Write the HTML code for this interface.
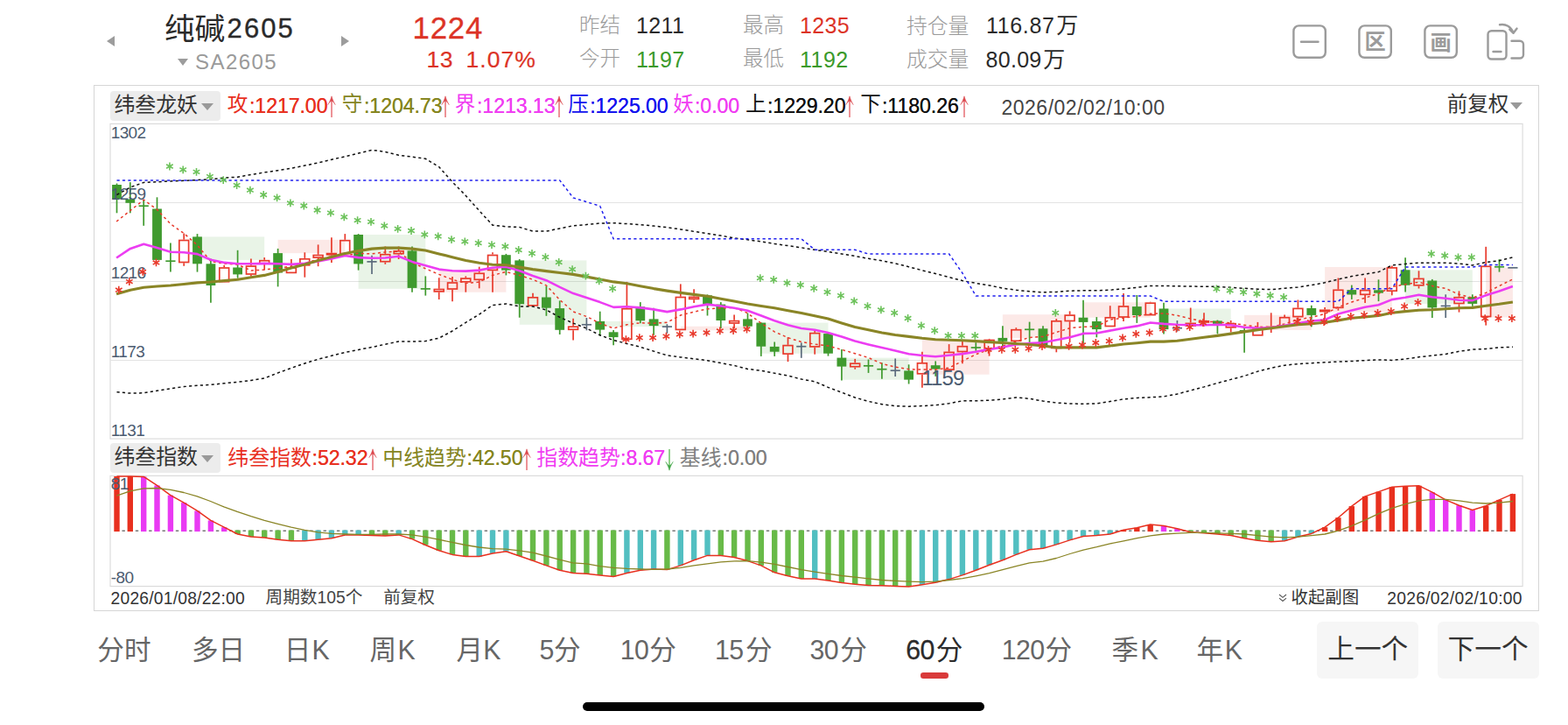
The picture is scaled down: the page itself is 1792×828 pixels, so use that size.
<!DOCTYPE html>
<html lang="zh-CN"><head><meta charset="utf-8"><title>纯碱2605 60分 K线</title>
<style>
html,body{margin:0;padding:0;background:#fff}
body{width:1792px;height:828px;position:relative;overflow:hidden;font-family:"Liberation Sans","Noto Sans CJK SC",sans-serif;color:#222}
header,section,nav{display:block}
.t{position:absolute;white-space:nowrap;line-height:1;display:block}
.cj{display:inline;font-family:"Liberation Sans","Noto Sans CJK SC",sans-serif}
.cj.lt{font-weight:300}
.w{font-size:25px;margin-left:1.8px;letter-spacing:0}
.sk{-webkit-text-stroke:0.35px currentColor}
b.n{font-weight:normal;font-family:"Liberation Sans",sans-serif}
.tri{position:absolute;width:0;height:0;border-style:solid}
.tri.l{border-width:6.5px 9px 6.5px 0;border-color:transparent #9c9c9c transparent transparent}
.tri.r{border-width:6.5px 0 6.5px 9px;border-color:transparent transparent transparent #9c9c9c}
.tri.d{border-width:8px 6.3px 0 6.3px;border-color:#9c9c9c transparent transparent transparent}
.tri.d2{border-width:8.2px 7.2px 0 7.2px;border-color:#999 transparent transparent transparent}
.ico{position:absolute;fill:none;stroke:#9b9b9b;stroke-width:2.4;stroke-linecap:round;stroke-linejoin:round}
.ico .fg{fill:#9b9b9b;stroke:none}
.panel{position:absolute;left:107px;top:97px;width:1652px;height:601px;border:1px solid #d6d6d6;box-sizing:border-box}
.panel>*{margin-left:-108px;margin-top:-98px}
.btn{position:absolute;width:125.5px;height:33.6px;border-radius:4px;background:#ececec}
.box{fill:none;stroke:#d9d9d9;stroke-width:1.1}
.ch{position:absolute;left:0;top:0;overflow:visible}
.grid{stroke:#e3e3e3;stroke-width:1}
.bg{fill:#3f9a2e;fill-opacity:.115}.br{fill:#e83a2c;fill-opacity:.115}
.bk{fill:none;stroke:#111;stroke-width:1.5;stroke-dasharray:3.2 3.2}
.bl{fill:none;stroke:#2222ee;stroke-width:1.5;stroke-dasharray:3.2 3.2}
.rd{fill:none;stroke:#e83a2c;stroke-width:1.5;stroke-dasharray:3 3.4}
.ol{fill:none;stroke:#8a8526;stroke-width:3.1;stroke-linejoin:round}
.mg{fill:none;stroke:#ec3df2;stroke-width:2.6;stroke-linejoin:round}
.wg{stroke:#3f9a2e;stroke-width:1.7;fill:none}.wr{stroke:#e83a2c;stroke-width:1.7;fill:none}.wk{stroke:#5b6b7c;stroke-width:1.7;fill:none}
.hr{fill:none;stroke:#e83a2c;stroke-width:1.7}.hr.thin{stroke-width:1.1;fill:#f6b9b4}
.sg{stroke:#6cc25a;stroke-width:1.6;fill:none}.sr{stroke:#e83a2c;stroke-width:1.6;fill:none}
.zero{stroke:#777;stroke-width:1.5;stroke-dasharray:3.4 4.27;fill:none}
.sr1{fill:none;stroke:#e8301f;stroke-width:1.5;stroke-linejoin:round}.so1{fill:none;stroke:#8a8526;stroke-width:1.3;stroke-linejoin:round}
.ar{width:10px;height:26px;display:block}
.ar .st{stroke:#ec8d92;stroke-width:1.9;fill:none}.ar .hd{fill:#db474c;stroke:#db474c;stroke-width:.5}
.ar.dn .st{stroke:#8ccf86}.ar.dn .hd{fill:#3fa544;stroke:#3fa544}
.chev{position:absolute;fill:none;stroke:#555;stroke-width:1.1}
nav .k{font-size:29px;margin-left:3px}
nav .d{font-size:29px;letter-spacing:0.5px;margin-right:1px}
.ul{position:absolute;left:1051.5px;top:768px;width:32.5px;height:6.6px;border-radius:3.3px;background:#d93a3a}
.nb{position:absolute;top:709.5px;width:116px;height:65px;border-radius:6px;background:#f6f6f6}
.home{position:absolute;left:666px;top:801.8px;width:459.4px;height:10.2px;border-radius:5.1px;background:#000}
</style></head>
<body>
<svg width="0" height="0" style="position:absolute"><defs>
<path id="star" d="M0-4.4V4.4M-3.8-2.2L3.8 2.2M-3.8 2.2L3.8-2.2"/>
</defs></svg>
<header>
<i class="tri l" style="left:122px;top:41px"></i>
<span class="t" style="left:188px;top:15.6px;font-size:34.6px;color:#2a2a2a;"><span class="cj">纯碱</span><b class="n sk" style="font-size:31px;letter-spacing:2.1px;margin-left:2.4px;position:relative;top:-2px">2605</b></span>
<i class="tri r" style="left:390px;top:41px"></i>
<i class="tri d" style="left:203px;top:67px"></i>
<span class="t" style="left:223px;top:59px;font-size:24px;color:#9a9a9a;letter-spacing:1.45px;">SA2605</span>
<span class="t" style="left:471.6px;top:15.3px;font-size:34.8px;color:#dc3326;letter-spacing:0.75px;-webkit-text-stroke:0.3px #dc3326;">1224</span>
<span class="t" style="left:487.5px;top:55px;font-size:26.5px;color:#dc3326;letter-spacing:0.6px;-webkit-text-stroke:0.2px #dc3326;">13</span>
<span class="t" style="left:532.6px;top:55px;font-size:26.5px;color:#dc3326;letter-spacing:1.0px;-webkit-text-stroke:0.2px #dc3326;">1.07%</span>
<span class="t" style="left:662px;top:17.6px;font-size:23.5px;color:#9a9a9a;"><span class="cj lt">昨结</span></span>
<span class="t" style="left:727px;top:16.5px;font-size:25px;color:#2a2a2a;letter-spacing:0.35px;">1211</span>
<span class="t" style="left:662px;top:56px;font-size:23.5px;color:#9a9a9a;"><span class="cj lt">今开</span></span>
<span class="t" style="left:727px;top:55.6px;font-size:25px;color:#3b9a2b;letter-spacing:0.5px;">1197</span>
<span class="t" style="left:849px;top:17.6px;font-size:23.5px;color:#9a9a9a;"><span class="cj lt">最高</span></span>
<span class="t" style="left:914px;top:16.5px;font-size:25px;color:#dc3326;letter-spacing:0.35px;">1235</span>
<span class="t" style="left:849px;top:56px;font-size:23.5px;color:#9a9a9a;"><span class="cj lt">最低</span></span>
<span class="t" style="left:914px;top:55.6px;font-size:25px;color:#3b9a2b;letter-spacing:0.5px;">1192</span>
<span class="t" style="left:1036px;top:17.6px;font-size:23.8px;color:#9a9a9a;"><span class="cj lt">持仓量</span></span>
<span class="t" style="left:1127px;top:16.5px;font-size:25px;color:#2a2a2a;letter-spacing:0.65px;">116.87<span class="w"><span class="cj">万</span></span></span>
<span class="t" style="left:1036px;top:56px;font-size:23.8px;color:#9a9a9a;"><span class="cj lt">成交量</span></span>
<span class="t" style="left:1126.5px;top:55.6px;font-size:25px;color:#2a2a2a;letter-spacing:0.3px;">80.09<span class="w"><span class="cj">万</span></span></span>
<svg class="ico" style="left:1476px;top:27px" width="42" height="42" viewBox="0 0 42 42"><rect x="2.4" y="2.4" width="36.4" height="36.4" rx="6"/><path d="M11 20.7H30.5"/></svg>
<svg class="ico" style="left:1551px;top:27px" width="42" height="42" viewBox="0 0 42 42"><rect x="2.4" y="2.4" width="36.4" height="36.4" rx="6"/><text class="fg" x="8.6" y="29.3" font-size="24.2" font-weight="bold" font-family="&quot;Liberation Sans&quot;,&quot;Noto Sans CJK SC&quot;,sans-serif">区</text></svg>
<svg class="ico" style="left:1626px;top:27px" width="42" height="42" viewBox="0 0 42 42"><rect x="2.4" y="2.4" width="36.4" height="36.4" rx="6"/><text class="fg" x="8.6" y="29.5" font-size="24.2" font-weight="bold" font-family="&quot;Liberation Sans&quot;,&quot;Noto Sans CJK SC&quot;,sans-serif">画</text></svg>
<svg class="ico" style="left:1698px;top:25px" width="48" height="46" viewBox="0 0 48 46"><rect x="2.5" y="10.3" width="21" height="32.2" rx="4"/><path d="M8.5 34H17.5M29.5 21.8H39a4 4 0 0 1 4 4V37.5a4 4 0 0 1 -4 4H29.5M16 3.3C23 2 29 5.5 31.5 12.5M27.3 8.6L31.6 12.8L35.6 7.6"/></svg>
</header>
<section class="panel">
<div class="btn" style="left:126.2px;top:104.2px"></div>
<span class="t" style="left:130.4px;top:108.3px;font-size:23.9px;color:#333;"><span class="cj">纬叁龙妖</span></span>
<i class="tri d2" style="left:230.3px;top:118.2px"></i>
<span class="t" style="left:259.8px;top:108.1px;font-size:23.6px;color:#e8301f;"><span class="cj">攻</span></span><span class="t" style="left:285px;top:110.1px;font-size:23.2px;color:#e8301f;letter-spacing:-0.1px;text-shadow:0 0 .6px currentColor;">:1217.00</span><span class="t" style="left:374.4px;top:109px"><svg class="ar" viewBox="0 0 10 26"><path class="st" d="M5 4V25"/><path class="hd" d="M5 .8C4.2 4 2.6 7.6.8 10.6C2 8.6 3.4 7 4.1 6.6H5.9C6.6 7 8 8.6 9.2 10.6C7.4 7.6 5.8 4 5 .8Z"/></svg></span>
<span class="t" style="left:390.8px;top:108.1px;font-size:23.6px;color:#85851f;"><span class="cj">守</span></span><span class="t" style="left:416px;top:110.1px;font-size:23.2px;color:#85851f;letter-spacing:-0.1px;text-shadow:0 0 .6px currentColor;">:1204.73</span><span class="t" style="left:504.1px;top:109px"><svg class="ar" viewBox="0 0 10 26"><path class="st" d="M5 4V25"/><path class="hd" d="M5 .8C4.2 4 2.6 7.6.8 10.6C2 8.6 3.4 7 4.1 6.6H5.9C6.6 7 8 8.6 9.2 10.6C7.4 7.6 5.8 4 5 .8Z"/></svg></span>
<span class="t" style="left:519.8px;top:108.1px;font-size:23.6px;color:#f03cf2;"><span class="cj">界</span></span><span class="t" style="left:545px;top:110.1px;font-size:23.2px;color:#f03cf2;letter-spacing:-0.1px;text-shadow:0 0 .6px currentColor;">:1213.13</span><span class="t" style="left:633.9px;top:109px"><svg class="ar" viewBox="0 0 10 26"><path class="st" d="M5 4V25"/><path class="hd" d="M5 .8C4.2 4 2.6 7.6.8 10.6C2 8.6 3.4 7 4.1 6.6H5.9C6.6 7 8 8.6 9.2 10.6C7.4 7.6 5.8 4 5 .8Z"/></svg></span>
<span class="t" style="left:649.3px;top:108.1px;font-size:23.6px;color:#1212ee;"><span class="cj">压</span></span><span class="t" style="left:674.2px;top:110.1px;font-size:23.2px;color:#1212ee;letter-spacing:-0.1px;text-shadow:0 0 .6px currentColor;">:1225.00</span>
<span class="t" style="left:769.3px;top:108.1px;font-size:23.6px;color:#f03cf2;"><span class="cj">妖</span></span><span class="t" style="left:794px;top:110.1px;font-size:23.2px;color:#f03cf2;letter-spacing:-0.1px;text-shadow:0 0 .6px currentColor;">:0.00</span>
<span class="t" style="left:852.1px;top:108.1px;font-size:23.6px;color:#111;"><span class="cj">上</span></span><span class="t" style="left:877px;top:110.1px;font-size:23.2px;color:#111;letter-spacing:-0.1px;text-shadow:0 0 .6px currentColor;">:1229.20</span><span class="t" style="left:966.4px;top:109px"><svg class="ar" viewBox="0 0 10 26"><path class="st" d="M5 4V25"/><path class="hd" d="M5 .8C4.2 4 2.6 7.6.8 10.6C2 8.6 3.4 7 4.1 6.6H5.9C6.6 7 8 8.6 9.2 10.6C7.4 7.6 5.8 4 5 .8Z"/></svg></span>
<span class="t" style="left:983.3px;top:108.1px;font-size:23.6px;color:#111;"><span class="cj">下</span></span><span class="t" style="left:1008px;top:110.1px;font-size:23.2px;color:#111;letter-spacing:-0.1px;text-shadow:0 0 .6px currentColor;">:1180.26</span><span class="t" style="left:1096.7px;top:109px"><svg class="ar" viewBox="0 0 10 26"><path class="st" d="M5 4V25"/><path class="hd" d="M5 .8C4.2 4 2.6 7.6.8 10.6C2 8.6 3.4 7 4.1 6.6H5.9C6.6 7 8 8.6 9.2 10.6C7.4 7.6 5.8 4 5 .8Z"/></svg></span>
<span class="t" style="left:1144.5px;top:111.6px;font-size:23px;color:#444;letter-spacing:0.5px;">2026/02/02/10:00</span>
<span class="t" style="left:1653.8px;top:108px;font-size:23.5px;color:#333;"><span class="cj">前复权</span></span>
<i class="tri d2" style="left:1726px;top:116.8px"></i>
<svg class="ch" width="1792" height="828" viewBox="0 0 1792 828">
<rect class="box" x="126" y="141.4" width="1614.1" height="359.7"/>
<rect class="box" x="126" y="543.4" width="1614.1" height="126.2"/>
<line x1="126" x2="1740" y1="231.5" y2="231.5" class="grid"/>
<line x1="126" x2="1740" y1="321.5" y2="321.5" class="grid"/>
<line x1="126" x2="1740" y1="411.5" y2="411.5" class="grid"/>
<rect class="bg" x="225.5" y="270.4" width="76.7" height="26.5"/>
<rect class="br" x="317.6" y="273.8" width="76.7" height="15.3"/>
<rect class="bg" x="409.6" y="268" width="76.7" height="61.8"/>
<rect class="br" x="501.7" y="308.6" width="76.7" height="25.1"/>
<rect class="bg" x="593.7" y="297.4" width="76.7" height="73.4"/>
<rect class="bg" x="685.7" y="366.9" width="76.7" height="6.2"/>
<rect class="br" x="777.8" y="372.7" width="76.7" height="4.6"/>
<rect class="bg" x="869.8" y="368.6" width="76.7" height="35.1"/>
<rect class="bg" x="961.9" y="408.6" width="76.7" height="25.1"/>
<rect class="br" x="1053.9" y="387.7" width="76.7" height="40"/>
<rect class="br" x="1145.9" y="359.2" width="76.7" height="26.7"/>
<rect class="br" x="1238" y="345.3" width="76.7" height="17.4"/>
<rect class="bg" x="1330" y="352.5" width="76.7" height="16.4"/>
<rect class="br" x="1422.1" y="359.8" width="76.7" height="17.2"/>
<rect class="br" x="1514.1" y="305" width="76.7" height="51.4"/>
<rect class="bg" x="1606.1" y="308.3" width="76.7" height="38.6"/>
<rect class="br" x="1698.2" y="305.8" width="30.7" height="56.6"/>
<path d="M133.5 209.5V243.3" class="wg"/>
<rect fill="#3f9a2e" x="128.1" y="211" width="10.8" height="16.4"/>
<path d="M148.8 208.1V243.3" class="wg"/>
<rect fill="#3f9a2e" x="143.4" y="227.5" width="10.8" height="4.3"/>
<path d="M164.2 228.2V257.8" class="wg"/>
<path d="M158.6 235.2H169.8" class="wg"/>
<path d="M179.5 225.3V296.8" class="wg"/>
<rect fill="#3f9a2e" x="174.1" y="238.5" width="10.8" height="58.4"/>
<path d="M194.9 277.5V310.6" class="wg"/>
<path d="M189.3 298.2H200.5" class="wg"/>
<path d="M210.2 266.5V273.6" class="wr"/>
<path d="M210.2 300.3V303.8" class="wr"/>
<rect class="hr" x="204.8" y="274.5" width="10.8" height="25"/>
<path d="M225.5 267.1V310.6" class="wg"/>
<rect fill="#3f9a2e" x="220.1" y="270.4" width="10.8" height="30.9"/>
<path d="M240.9 295.5V345.7" class="wg"/>
<rect fill="#3f9a2e" x="235.5" y="301.3" width="10.8" height="24.7"/>
<path d="M256.2 302.8V305.1" class="wr"/>
<rect class="hr" x="250.8" y="306" width="10.8" height="15.7"/>
<path d="M271.6 285.8V317.7" class="wg"/>
<rect fill="#3f9a2e" x="266.2" y="305.5" width="10.8" height="7.9"/>
<path d="M286.9 295.5V303.2" class="wr"/>
<path d="M286.9 313.8V315.8" class="wr"/>
<rect class="hr" x="281.5" y="304.1" width="10.8" height="8.9"/>
<path d="M302.2 294.1V296.8" class="wr"/>
<path d="M302.2 301.9V308.4" class="wr"/>
<rect class="hr" x="296.8" y="297.7" width="10.8" height="3.3"/>
<path d="M317.6 283.9V327.4" class="wg"/>
<rect fill="#3f9a2e" x="312.2" y="289.1" width="10.8" height="22.4"/>
<path d="M332.9 296.1V305.1" class="wr"/>
<rect class="hr" x="327.5" y="306" width="10.8" height="5.4"/>
<path d="M348.3 288.3V294.9" class="wr"/>
<path d="M348.3 303.6V316.7" class="wr"/>
<rect class="hr" x="342.9" y="295.8" width="10.8" height="7"/>
<path d="M363.6 279.4V290.7" class="wr"/>
<path d="M363.6 294.9V304.2" class="wr"/>
<rect class="hr" x="358.2" y="291.5" width="10.8" height="2.6"/>
<path d="M378.9 271.3V288.7" class="wr"/>
<path d="M378.9 291.6V299.9" class="wr"/>
<rect class="hr" x="373.5" y="289.6" width="10.8" height="1.2"/>
<path d="M394.3 267.1V273.8" class="wr"/>
<rect class="hr" x="388.9" y="274.7" width="10.8" height="14.9"/>
<path d="M409.6 267.1V308.6" class="wg"/>
<rect fill="#3f9a2e" x="404.2" y="268" width="10.8" height="33.4"/>
<path d="M425 291.8V313" class="wk"/>
<path d="M419.4 298.9H430.6" class="wk"/>
<path d="M440.3 281.5V289.9" class="wr"/>
<path d="M440.3 299.5V301.8" class="wr"/>
<rect class="hr" x="434.9" y="290.7" width="10.8" height="8"/>
<path d="M455.6 281.5V286" class="wr"/>
<path d="M455.6 290.6V296" class="wr"/>
<rect class="hr" x="450.2" y="286.8" width="10.8" height="2.9"/>
<path d="M471 281.5V333.7" class="wg"/>
<rect fill="#3f9a2e" x="465.6" y="286.4" width="10.8" height="42.5"/>
<path d="M486.3 315.4V337.6" class="wg"/>
<path d="M480.7 329.9H491.9" class="wg"/>
<path d="M501.7 317.3V329.7" class="wr"/>
<path d="M501.7 333.7V342" class="wr"/>
<rect class="hr" x="496.3" y="330.5" width="10.8" height="2.4"/>
<path d="M517 315.9V322.1" class="wr"/>
<path d="M517 330.8V344.3" class="wr"/>
<rect class="hr" x="511.6" y="323" width="10.8" height="7"/>
<path d="M532.3 315.4V317.3" class="wr"/>
<path d="M532.3 322.7V333.7" class="wr"/>
<rect class="hr" x="526.9" y="318.1" width="10.8" height="3.7"/>
<path d="M547.7 304.7V311.5" class="wr"/>
<path d="M547.7 320.2V329.3" class="wr"/>
<rect class="hr" x="542.3" y="312.3" width="10.8" height="7"/>
<path d="M563 288.3V290.6" class="wr"/>
<path d="M563 309.2V333.7" class="wr"/>
<rect class="hr" x="557.6" y="291.5" width="10.8" height="16.9"/>
<path d="M578.4 289.9V314.4" class="wg"/>
<rect fill="#3f9a2e" x="573" y="291.2" width="10.8" height="17.4"/>
<path d="M593.7 296V362.7" class="wg"/>
<rect fill="#3f9a2e" x="588.3" y="297.4" width="10.8" height="49.9"/>
<path d="M609 334.7V338.9" class="wr"/>
<rect class="hr" x="603.6" y="339.8" width="10.8" height="9.1"/>
<path d="M624.4 327V360.8" class="wg"/>
<rect fill="#3f9a2e" x="619" y="339.5" width="10.8" height="12.2"/>
<path d="M639.7 343.4V382" class="wg"/>
<rect fill="#3f9a2e" x="634.3" y="352.1" width="10.8" height="24.7"/>
<path d="M655.1 363.7V372.4" class="wr"/>
<path d="M655.1 377.2V388.4" class="wr"/>
<rect class="hr" x="649.7" y="373.2" width="10.8" height="3.1"/>
<path d="M670.4 363V377.3" class="wk"/>
<path d="M664.8 370.8H676" class="wk"/>
<path d="M685.7 355.7V383.7" class="wg"/>
<rect fill="#3f9a2e" x="680.3" y="366.9" width="10.8" height="9.7"/>
<path d="M701.1 377V394.3" class="wg"/>
<rect fill="#3f9a2e" x="695.7" y="379.3" width="10.8" height="5.8"/>
<path d="M716.4 321.9V351.8" class="wr"/>
<rect class="hr" x="711" y="352.7" width="10.8" height="34.6"/>
<path d="M731.8 345.1V369.2" class="wg"/>
<rect fill="#3f9a2e" x="726.4" y="350.3" width="10.8" height="16"/>
<path d="M747.1 351.8V382.8" class="wg"/>
<rect fill="#3f9a2e" x="741.7" y="364.4" width="10.8" height="7.7"/>
<path d="M762.4 370.2V380.8" class="wk"/>
<path d="M756.8 373.1H768" class="wk"/>
<path d="M777.8 324.4V338.7" class="wr"/>
<rect class="hr" x="772.4" y="339.5" width="10.8" height="36.9"/>
<path d="M793.1 330.2V338.5" class="wr"/>
<path d="M793.1 342.2V346" class="wr"/>
<rect class="hr" x="787.7" y="339.4" width="10.8" height="2"/>
<path d="M808.5 336.4V360.5" class="wg"/>
<rect fill="#3f9a2e" x="803.1" y="337.3" width="10.8" height="10"/>
<path d="M823.8 345.1V375" class="wg"/>
<rect fill="#3f9a2e" x="818.4" y="347.6" width="10.8" height="18.4"/>
<path d="M839.1 359.6V365.7" class="wr"/>
<path d="M839.1 369.8V375" class="wr"/>
<rect class="hr" x="833.7" y="366.6" width="10.8" height="2.4"/>
<path d="M854.5 357.6V375" class="wg"/>
<rect fill="#3f9a2e" x="849.1" y="364.4" width="10.8" height="8.3"/>
<path d="M869.8 368.3V406.9" class="wg"/>
<rect fill="#3f9a2e" x="864.4" y="368.6" width="10.8" height="27.1"/>
<path d="M885.2 390.5V406.9" class="wg"/>
<rect fill="#3f9a2e" x="879.8" y="395.9" width="10.8" height="5.8"/>
<path d="M900.5 385.1V393.8" class="wr"/>
<path d="M900.5 405V413.1" class="wr"/>
<rect class="hr" x="895.1" y="394.6" width="10.8" height="9.5"/>
<path d="M915.8 391.4V408.8" class="wk"/>
<path d="M910.2 395.7H921.4" class="wk"/>
<path d="M931.2 377.2V379.8" class="wr"/>
<path d="M931.2 396.8V404.7" class="wr"/>
<rect class="hr" x="925.8" y="380.6" width="10.8" height="15.3"/>
<path d="M946.5 379.6V406.6" class="wg"/>
<rect fill="#3f9a2e" x="941.1" y="381.1" width="10.8" height="22.6"/>
<path d="M961.9 398.9V434.6" class="wg"/>
<rect fill="#3f9a2e" x="956.5" y="408.6" width="10.8" height="10"/>
<path d="M977.2 409.9V414.3" class="wr"/>
<path d="M977.2 419.6V421.7" class="wr"/>
<rect class="hr" x="971.8" y="415.2" width="10.8" height="3.5"/>
<path d="M992.5 410.5V425.9" class="wg"/>
<path d="M986.9 417.8H998.1" class="wg"/>
<path d="M1007.9 414.3V432.7" class="wg"/>
<path d="M1002.3 421.7H1013.5" class="wg"/>
<path d="M1023.2 409.5V430" class="wk"/>
<path d="M1017.6 423.2H1028.8" class="wk"/>
<path d="M1038.6 416.3V438.5" class="wg"/>
<rect fill="#3f9a2e" x="1033.2" y="423.4" width="10.8" height="10.2"/>
<path d="M1053.9 401.8V414" class="wr"/>
<path d="M1053.9 427.7V442.8" class="wr"/>
<rect class="hr" x="1048.5" y="414.8" width="10.8" height="12"/>
<path d="M1069.2 412.4V429.8" class="wg"/>
<rect fill="#3f9a2e" x="1063.8" y="417.2" width="10.8" height="4.4"/>
<path d="M1084.6 393.1V401.6" class="wr"/>
<rect class="hr" x="1079.2" y="402.4" width="10.8" height="19.7"/>
<path d="M1099.9 389.6V394.8" class="wr"/>
<path d="M1099.9 402.4V415.3" class="wr"/>
<rect class="hr" x="1094.5" y="395.7" width="10.8" height="5.8"/>
<path d="M1115.3 391.2V400.8" class="wg"/>
<path d="M1109.7 397H1120.9" class="wg"/>
<path d="M1130.6 386.9V387.7" class="wr"/>
<path d="M1130.6 398.9V406.6" class="wr"/>
<rect class="hr" x="1125.2" y="388.5" width="10.8" height="9.5"/>
<path d="M1145.9 372.2V396" class="wg"/>
<rect fill="#3f9a2e" x="1140.5" y="385.9" width="10.8" height="3.9"/>
<path d="M1161.3 374.2V375.9" class="wr"/>
<rect class="hr" x="1155.9" y="376.7" width="10.8" height="12.6"/>
<path d="M1176.6 367.6V393.1" class="wg"/>
<path d="M1171 376.3H1182.2" class="wg"/>
<path d="M1192 372.2V395" class="wg"/>
<rect fill="#3f9a2e" x="1186.6" y="375.3" width="10.8" height="19.7"/>
<path d="M1207.3 364.1V366" class="wr"/>
<path d="M1207.3 398.3V402.3" class="wr"/>
<rect class="hr" x="1201.9" y="366.8" width="10.8" height="30.6"/>
<path d="M1222.6 355.4V359.2" class="wr"/>
<path d="M1222.6 367.3V391.1" class="wr"/>
<rect class="hr" x="1217.2" y="360.1" width="10.8" height="6.4"/>
<path d="M1238 342.8V392.1" class="wg"/>
<rect fill="#3f9a2e" x="1232.6" y="362.7" width="10.8" height="5.2"/>
<path d="M1253.3 362.1V385.3" class="wg"/>
<rect fill="#3f9a2e" x="1247.9" y="367" width="10.8" height="9.1"/>
<path d="M1268.7 349.2V361.9" class="wr"/>
<rect class="hr" x="1263.3" y="362.8" width="10.8" height="9.7"/>
<path d="M1284 335.1V349.2" class="wr"/>
<path d="M1284 362.9V367" class="wr"/>
<rect class="hr" x="1278.6" y="350" width="10.8" height="12"/>
<path d="M1299.3 337V368.9" class="wg"/>
<rect fill="#3f9a2e" x="1293.9" y="350.1" width="10.8" height="9.9"/>
<path d="M1314.7 344.7V345.3" class="wr"/>
<rect class="hr" x="1309.3" y="346.2" width="10.8" height="13.4"/>
<path d="M1330 345.7V381.4" class="wg"/>
<rect fill="#3f9a2e" x="1324.6" y="352.5" width="10.8" height="23.6"/>
<path d="M1345.4 366V378.6" class="wk"/>
<path d="M1339.8 374.7H1351" class="wk"/>
<path d="M1360.7 351.5V368.5" class="wr"/>
<path d="M1360.7 372.8V374.7" class="wr"/>
<rect class="hr" x="1355.3" y="369.4" width="10.8" height="2.6"/>
<path d="M1376 357.3V366" class="wr"/>
<path d="M1376 368.9V372.8" class="wr"/>
<rect class="hr" x="1370.6" y="366.8" width="10.8" height="1.2"/>
<path d="M1391.4 365.6V381.4" class="wg"/>
<rect fill="#3f9a2e" x="1386" y="366.4" width="10.8" height="3.5"/>
<path d="M1406.7 366V368.9" class="wr"/>
<path d="M1406.7 374.7V379.5" class="wr"/>
<rect class="hr" x="1401.3" y="369.7" width="10.8" height="4.1"/>
<path d="M1422.1 372.8V402.7" class="wg"/>
<rect fill="#3f9a2e" x="1416.7" y="377" width="10.8" height="1.7"/>
<path d="M1437.4 367.9V375.1" class="wr"/>
<rect class="hr" x="1432" y="376" width="10.8" height="6.8"/>
<path d="M1452.7 357.3V372.7" class="wr"/>
<path d="M1452.7 373.9V380" class="wr"/>
<rect class="hr thin" x="1447.3" y="373.2" width="10.8" height="0.8"/>
<path d="M1468.1 359.4V361.9" class="wr"/>
<path d="M1468.1 372.7V373.3" class="wr"/>
<rect class="hr" x="1462.7" y="362.7" width="10.8" height="9.2"/>
<path d="M1483.4 342.5V351.6" class="wr"/>
<path d="M1483.4 362.5V367.3" class="wr"/>
<rect class="hr" x="1478" y="352.4" width="10.8" height="9.2"/>
<path d="M1498.8 348.8V373.3" class="wg"/>
<rect fill="#3f9a2e" x="1493.4" y="352" width="10.8" height="7.9"/>
<path d="M1514.1 351V353.4" class="wr"/>
<path d="M1514.1 356.4V370.9" class="wr"/>
<rect class="hr" x="1508.7" y="354.3" width="10.8" height="1.3"/>
<path d="M1529.4 317.5V330.5" class="wr"/>
<path d="M1529.4 352.2V354.6" class="wr"/>
<rect class="hr" x="1524" y="331.3" width="10.8" height="20"/>
<path d="M1544.8 325.6V341.9" class="wg"/>
<rect fill="#3f9a2e" x="1539.4" y="331.1" width="10.8" height="5.4"/>
<path d="M1560.1 317.5V330.7" class="wr"/>
<path d="M1560.1 337.1V345.9" class="wr"/>
<rect class="hr" x="1554.7" y="331.6" width="10.8" height="4.7"/>
<path d="M1575.5 319.3V344.1" class="wg"/>
<rect fill="#3f9a2e" x="1570.1" y="331.3" width="10.8" height="3.4"/>
<path d="M1590.8 303.5V305" class="wr"/>
<path d="M1590.8 333V337.3" class="wr"/>
<rect class="hr" x="1585.4" y="305.9" width="10.8" height="26.3"/>
<path d="M1606.1 294.2V333.4" class="wg"/>
<rect fill="#3f9a2e" x="1600.7" y="308.3" width="10.8" height="17.4"/>
<path d="M1621.5 309.3V317.6" class="wr"/>
<path d="M1621.5 326.6V329.5" class="wr"/>
<rect class="hr" x="1616.1" y="318.4" width="10.8" height="7.4"/>
<path d="M1636.8 318.9V363" class="wg"/>
<rect fill="#3f9a2e" x="1631.4" y="320.5" width="10.8" height="30.9"/>
<path d="M1652.2 336.3V363" class="wk"/>
<path d="M1646.6 349.4H1657.8" class="wk"/>
<path d="M1667.5 332.4V338.8" class="wr"/>
<path d="M1667.5 347.3V356.6" class="wr"/>
<rect class="hr" x="1662.1" y="339.7" width="10.8" height="6.8"/>
<path d="M1682.8 336.3V349.8" class="wg"/>
<rect fill="#3f9a2e" x="1677.4" y="339.2" width="10.8" height="7.7"/>
<path d="M1698.2 281.8V303.5" class="wr"/>
<path d="M1698.2 362.4V371.6" class="wr"/>
<rect class="hr" x="1692.8" y="304.3" width="10.8" height="57.2"/>
<path d="M1713.5 296.1V310.6" class="wg"/>
<path d="M1707.9 304.8H1719.1" class="wg"/>
<path d="M1723.3 305.8H1734.5" class="wk"/>
<path d="M131.8 606.3H1732" class="zero"/>
<rect fill="#e8301f" x="130.3" y="544" width="6.4" height="63.1"/>
<rect fill="#e8301f" x="145.6" y="544" width="6.4" height="63.1"/>
<rect fill="#e93af3" x="161" y="544.4" width="6.4" height="62.7"/>
<rect fill="#e93af3" x="176.3" y="554.4" width="6.4" height="52.7"/>
<rect fill="#e93af3" x="191.7" y="565.6" width="6.4" height="41.5"/>
<rect fill="#e93af3" x="207" y="574.1" width="6.4" height="33"/>
<rect fill="#e93af3" x="222.3" y="583.4" width="6.4" height="23.7"/>
<rect fill="#e93af3" x="237.7" y="594.4" width="6.4" height="12.7"/>
<rect fill="#e93af3" x="253" y="602.2" width="6.4" height="4.9"/>
<rect fill="#68ba48" x="268.4" y="605.5" width="6.4" height="4.5"/>
<rect fill="#68ba48" x="283.7" y="605.5" width="6.4" height="7.6"/>
<rect fill="#68ba48" x="299" y="605.5" width="6.4" height="8.6"/>
<rect fill="#68ba48" x="314.4" y="605.5" width="6.4" height="10.8"/>
<rect fill="#68ba48" x="329.7" y="605.5" width="6.4" height="12.3"/>
<rect fill="#52bfc1" x="345.1" y="605.5" width="6.4" height="12.3"/>
<rect fill="#52bfc1" x="360.4" y="605.5" width="6.4" height="10.8"/>
<rect fill="#52bfc1" x="375.7" y="605.5" width="6.4" height="9.2"/>
<rect fill="#52bfc1" x="391.1" y="605.5" width="6.4" height="5.4"/>
<rect fill="#52bfc1" x="406.4" y="605.5" width="6.4" height="5.4"/>
<rect fill="#68ba48" x="421.8" y="605.5" width="6.4" height="6.1"/>
<rect fill="#68ba48" x="437.1" y="605.5" width="6.4" height="6.4"/>
<rect fill="#52bfc1" x="452.4" y="605.5" width="6.4" height="5.4"/>
<rect fill="#68ba48" x="467.8" y="605.5" width="6.4" height="10.1"/>
<rect fill="#68ba48" x="483.1" y="605.5" width="6.4" height="17"/>
<rect fill="#68ba48" x="498.5" y="605.5" width="6.4" height="23.3"/>
<rect fill="#68ba48" x="513.8" y="605.5" width="6.4" height="27.9"/>
<rect fill="#68ba48" x="529.1" y="605.5" width="6.4" height="30.1"/>
<rect fill="#52bfc1" x="544.5" y="605.5" width="6.4" height="30.1"/>
<rect fill="#52bfc1" x="559.8" y="605.5" width="6.4" height="26.4"/>
<rect fill="#52bfc1" x="575.2" y="605.5" width="6.4" height="24.2"/>
<rect fill="#68ba48" x="590.5" y="605.5" width="6.4" height="29.5"/>
<rect fill="#68ba48" x="605.8" y="605.5" width="6.4" height="34.8"/>
<rect fill="#68ba48" x="621.2" y="605.5" width="6.4" height="40.4"/>
<rect fill="#68ba48" x="636.5" y="605.5" width="6.4" height="45.8"/>
<rect fill="#68ba48" x="651.9" y="605.5" width="6.4" height="48.9"/>
<rect fill="#68ba48" x="667.2" y="605.5" width="6.4" height="49.8"/>
<rect fill="#68ba48" x="682.5" y="605.5" width="6.4" height="51.4"/>
<rect fill="#68ba48" x="697.9" y="605.5" width="6.4" height="52.9"/>
<rect fill="#52bfc1" x="713.2" y="605.5" width="6.4" height="48.9"/>
<rect fill="#52bfc1" x="728.6" y="605.5" width="6.4" height="45.8"/>
<rect fill="#52bfc1" x="743.9" y="605.5" width="6.4" height="44.5"/>
<rect fill="#68ba48" x="759.2" y="605.5" width="6.4" height="45.1"/>
<rect fill="#52bfc1" x="774.6" y="605.5" width="6.4" height="40.4"/>
<rect fill="#52bfc1" x="789.9" y="605.5" width="6.4" height="34.2"/>
<rect fill="#52bfc1" x="805.3" y="605.5" width="6.4" height="28.9"/>
<rect fill="#68ba48" x="820.6" y="605.5" width="6.4" height="28.9"/>
<rect fill="#68ba48" x="835.9" y="605.5" width="6.4" height="31.1"/>
<rect fill="#68ba48" x="851.3" y="605.5" width="6.4" height="35.1"/>
<rect fill="#68ba48" x="866.6" y="605.5" width="6.4" height="40.4"/>
<rect fill="#68ba48" x="882" y="605.5" width="6.4" height="48.3"/>
<rect fill="#68ba48" x="897.3" y="605.5" width="6.4" height="52.3"/>
<rect fill="#68ba48" x="912.6" y="605.5" width="6.4" height="55.4"/>
<rect fill="#52bfc1" x="928" y="605.5" width="6.4" height="55.4"/>
<rect fill="#68ba48" x="943.3" y="605.5" width="6.4" height="57.6"/>
<rect fill="#68ba48" x="958.7" y="605.5" width="6.4" height="60.1"/>
<rect fill="#68ba48" x="974" y="605.5" width="6.4" height="61.7"/>
<rect fill="#68ba48" x="989.3" y="605.5" width="6.4" height="62.9"/>
<rect fill="#68ba48" x="1004.7" y="605.5" width="6.4" height="63.3"/>
<rect fill="#68ba48" x="1020" y="605.5" width="6.4" height="63.9"/>
<rect fill="#68ba48" x="1035.4" y="605.5" width="6.4" height="64.5"/>
<rect fill="#52bfc1" x="1050.7" y="605.5" width="6.4" height="62.3"/>
<rect fill="#52bfc1" x="1066" y="605.5" width="6.4" height="59.8"/>
<rect fill="#52bfc1" x="1081.4" y="605.5" width="6.4" height="56.1"/>
<rect fill="#52bfc1" x="1096.7" y="605.5" width="6.4" height="51.4"/>
<rect fill="#52bfc1" x="1112.1" y="605.5" width="6.4" height="45.8"/>
<rect fill="#52bfc1" x="1127.4" y="605.5" width="6.4" height="39.8"/>
<rect fill="#52bfc1" x="1142.7" y="605.5" width="6.4" height="34.2"/>
<rect fill="#52bfc1" x="1158.1" y="605.5" width="6.4" height="27.9"/>
<rect fill="#52bfc1" x="1173.4" y="605.5" width="6.4" height="22.3"/>
<rect fill="#52bfc1" x="1188.8" y="605.5" width="6.4" height="20.8"/>
<rect fill="#52bfc1" x="1204.1" y="605.5" width="6.4" height="16.4"/>
<rect fill="#52bfc1" x="1219.4" y="605.5" width="6.4" height="11.4"/>
<rect fill="#52bfc1" x="1234.8" y="605.5" width="6.4" height="7"/>
<rect fill="#52bfc1" x="1250.1" y="605.5" width="6.4" height="6.1"/>
<rect fill="#52bfc1" x="1265.5" y="605.5" width="6.4" height="4.5"/>
<rect fill="#e8301f" x="1280.8" y="605.3" width="6.4" height="1.8"/>
<rect fill="#e8301f" x="1296.1" y="602.8" width="6.4" height="4.3"/>
<rect fill="#e8301f" x="1311.5" y="599.1" width="6.4" height="8"/>
<rect fill="#e93af3" x="1326.8" y="600.6" width="6.4" height="6.5"/>
<rect fill="#e93af3" x="1342.2" y="603.8" width="6.4" height="3.3"/>
<rect fill="#68ba48" x="1357.5" y="605.5" width="6.4" height="2.3"/>
<rect fill="#68ba48" x="1372.8" y="605.5" width="6.4" height="3.3"/>
<rect fill="#68ba48" x="1388.2" y="605.5" width="6.4" height="4.5"/>
<rect fill="#68ba48" x="1403.5" y="605.5" width="6.4" height="6.1"/>
<rect fill="#68ba48" x="1418.9" y="605.5" width="6.4" height="9.2"/>
<rect fill="#68ba48" x="1434.2" y="605.5" width="6.4" height="11.7"/>
<rect fill="#68ba48" x="1449.5" y="605.5" width="6.4" height="13.3"/>
<rect fill="#52bfc1" x="1464.9" y="605.5" width="6.4" height="12.3"/>
<rect fill="#52bfc1" x="1480.2" y="605.5" width="6.4" height="7.6"/>
<rect fill="#52bfc1" x="1495.6" y="605.5" width="6.4" height="3.9"/>
<rect fill="#e8301f" x="1510.9" y="602.2" width="6.4" height="4.9"/>
<rect fill="#e8301f" x="1526.2" y="591.2" width="6.4" height="15.8"/>
<rect fill="#e8301f" x="1541.6" y="578.1" width="6.4" height="29"/>
<rect fill="#e8301f" x="1556.9" y="566.9" width="6.4" height="40.2"/>
<rect fill="#e8301f" x="1572.3" y="561.6" width="6.4" height="45.5"/>
<rect fill="#e8301f" x="1587.6" y="556.2" width="6.4" height="50.8"/>
<rect fill="#e8301f" x="1602.9" y="555.3" width="6.4" height="51.8"/>
<rect fill="#e8301f" x="1618.3" y="554.7" width="6.4" height="52.4"/>
<rect fill="#e93af3" x="1633.6" y="562.2" width="6.4" height="44.9"/>
<rect fill="#e93af3" x="1649" y="570.9" width="6.4" height="36.2"/>
<rect fill="#e93af3" x="1664.3" y="577.2" width="6.4" height="29.9"/>
<rect fill="#e93af3" x="1679.6" y="582.5" width="6.4" height="24.6"/>
<rect fill="#e8301f" x="1695" y="577.8" width="6.4" height="29.3"/>
<rect fill="#e8301f" x="1710.3" y="570.9" width="6.4" height="36.2"/>
<rect fill="#e8301f" x="1725.7" y="564.1" width="6.4" height="43"/>
<polyline class="sr1" points="133.5,544 148.8,544 164.2,544.4 179.5,554.4 194.9,565.6 210.2,574.1 225.5,583.4 240.9,594.4 256.2,602.2 271.6,610 286.9,613.1 302.2,614.1 317.6,616.2 332.9,617.8 348.3,617.8 363.6,616.2 378.9,614.7 394.3,610.9 409.6,610.9 425,611.6 440.3,611.9 455.6,610.9 471,615.6 486.3,622.5 501.7,628.8 517,633.4 532.3,635.6 547.7,635.6 563,631.9 578.4,629.7 593.7,635 609,640.3 624.4,645.9 639.7,651.2 655.1,654.4 670.4,655.3 685.7,656.9 701.1,658.4 716.4,654.4 731.8,651.2 747.1,650 762.4,650.6 777.8,645.9 793.1,639.7 808.5,634.4 823.8,634.4 839.1,636.6 854.5,640.6 869.8,645.9 885.2,653.8 900.5,657.8 915.8,660.9 931.2,660.9 946.5,663.1 961.9,665.6 977.2,667.2 992.5,668.4 1007.9,668.8 1023.2,669.4 1038.6,670 1053.9,667.8 1069.2,665.3 1084.6,661.6 1099.9,656.9 1115.3,651.2 1130.6,645.3 1145.9,639.7 1161.3,633.4 1176.6,627.8 1192,626.2 1207.3,621.9 1222.6,616.9 1238,612.5 1253.3,611.6 1268.7,610 1284,605.3 1299.3,602.8 1314.7,599.1 1330,600.6 1345.4,603.8 1360.7,607.8 1376,608.8 1391.4,610 1406.7,611.6 1422.1,614.7 1437.4,617.2 1452.7,618.8 1468.1,617.8 1483.4,613.1 1498.8,609.4 1514.1,602.2 1529.4,591.2 1544.8,578.1 1560.1,566.9 1575.5,561.6 1590.8,556.2 1606.1,555.3 1621.5,554.7 1636.8,562.2 1652.2,570.9 1667.5,577.2 1682.8,582.5 1698.2,577.8 1713.5,570.9 1728.9,564.1"/>
<polyline class="so1" points="133.4,566.2 148.8,560.9 164.1,557.8 179.4,557.5 195,559.4 210,562.5 225.3,566.9 240.6,572.5 255.9,578.8 271.2,584.4 286.9,589.7 302.2,594.4 317.5,598.4 332.8,602.2 348.1,605.3 363.4,607.8 378.8,609.4 394.1,610 409.4,610.3 424.7,610.3 440,610 455.3,610 470.6,610.9 485.9,613.1 501.2,616.2 516.9,619.4 532.2,622.5 547.5,625 562.8,626.6 578.1,627.2 593.4,628.8 608.8,631.2 624.1,635 639.4,639.1 654.7,642.8 670.3,643.8 685.6,646.6 700.9,648.4 716.6,649.4 731.9,650 747.2,650.3 762.5,650 777.8,648.4 793.1,645.9 808.4,643.8 823.8,641.9 839.1,640.9 854.4,640.6 870,642.2 885.3,644.4 900.6,647.5 915.9,650.6 931.2,653.1 946.6,655.3 961.9,657.5 977.2,659.1 992.5,660.9 1007.8,662.5 1023.1,663.4 1038.8,664.1 1054.1,664.7 1069.4,664.1 1084.7,662.5 1100,660.6 1115.3,657.8 1130.6,654.7 1145.9,650.6 1161.2,646.6 1176.6,642.8 1191.9,641.2 1207.2,637.5 1222.8,632.5 1238.1,628.1 1253.4,624.7 1268.8,620.9 1284.1,617.8 1299.4,614.7 1314.7,611.9 1330,610 1345.3,609.1 1360.6,608.4 1376.2,608.4 1391.6,608.8 1406.9,609.4 1422.2,610 1437.5,611.6 1452.8,613.1 1468.1,613.8 1483.4,613.1 1498.8,611.6 1514.1,610 1529.4,606.2 1544.7,600.6 1560.3,593.8 1575.6,586.6 1590.9,580.3 1606.2,575.6 1621.6,571.9 1636.9,570.3 1652.2,570.3 1667.5,571.9 1682.8,574.1 1698.1,575 1713.4,574.1 1729.1,572.5"/>
</svg>
<span class="t" style="left:126.7px;top:543.2px;font-size:19px;color:#4b5b70;letter-spacing:-0.6px;">81</span>
<span class="t" style="left:126.7px;top:649.8px;font-size:19px;color:#4b5b70;letter-spacing:-0.6px;">-80</span>
<span class="t" style="left:126.7px;top:141.6px;font-size:19px;color:#4b5b70;letter-spacing:-0.6px;">1302</span>
<span class="t" style="left:126.7px;top:211.7px;font-size:19px;color:#4b5b70;letter-spacing:-0.6px;">1259</span>
<span class="t" style="left:126.7px;top:302px;font-size:19px;color:#4b5b70;letter-spacing:-0.6px;">1216</span>
<span class="t" style="left:126.7px;top:391.8px;font-size:19px;color:#4b5b70;letter-spacing:-0.6px;">1173</span>
<span class="t" style="left:126.7px;top:481.7px;font-size:19px;color:#4b5b70;letter-spacing:-0.6px;">1131</span>
<svg class="ch" width="1792" height="828" viewBox="0 0 1792 828">
<polyline class="bk" points="133.5,222.5 148.8,214 164.2,208.4 179.5,207.8 194.9,206.9 210.2,206.3 225.5,205.6 240.9,204.7 256.2,203.1 271.6,202.2 286.9,199.4 302.2,196.9 317.6,194.7 332.9,192.2 348.3,189.1 363.6,185.9 378.9,182.2 394.3,178.8 409.6,175 425,171.3 440.3,173.4 455.6,177.2 471,179.1 486.3,181.3 501.7,190.6 517,207.8 532.3,223.4 547.7,240.6 563,257.2 578.4,258.8 593.7,259.4 609,264.1 624.4,264.1 639.7,260.9 655.1,257.8 670.4,256.5 685.7,255 701.1,254.7 716.4,255.6 731.8,256.6 747.1,258.1 762.4,259.7 777.8,261.9 793.1,264.4 808.5,266.6 823.8,269.1 839.1,271.9 854.5,273.8 869.8,275.9 885.2,278.4 900.5,280.6 915.8,282.8 931.2,285.3 946.5,287.5 961.9,290 977.2,292.5 992.5,295.3 1007.9,297.8 1023.2,300.9 1038.6,304.7 1053.9,308.8 1069.2,312.5 1084.6,316.6 1099.9,320.6 1115.3,323.4 1130.6,325.9 1145.9,329.1 1161.3,331.3 1176.6,332.8 1192,333.8 1207.3,333.4 1222.6,332.2 1238,331.8 1253.3,331.8 1268.7,331.2 1284,329.9 1299.3,328.3 1314.7,326.4 1330,326.4 1345.4,326.8 1360.7,327 1376,327.3 1391.4,327.3 1406.7,328.3 1422.1,329.3 1437.4,330.2 1452.7,330.6 1468.1,329.3 1483.4,327.9 1498.8,325.7 1514.1,322.8 1529.4,318.9 1544.8,315.6 1560.1,313.1 1575.5,310.6 1590.8,302.9 1606.1,301.5 1621.5,300.2 1636.8,300.2 1652.2,300.2 1667.5,301.1 1682.8,302.9 1698.2,299.6 1713.5,297.7 1728.9,293.8"/>
<polyline class="bk" points="133.5,447.8 148.8,449.1 164.2,448.8 179.5,446.3 194.9,443.8 210.2,441.6 225.5,440.3 240.9,439.4 256.2,437.8 271.6,436.3 286.9,434.4 302.2,431.9 317.6,425.9 332.9,420.3 348.3,415 363.6,410.3 378.9,406.3 394.3,402.5 409.6,399.4 425,396.5 440.3,393.2 455.6,390 471,390 486.3,389.6 501.7,386.1 517,378 532.3,368.3 547.7,359 563,348.5 578.4,346.9 593.7,350 609,350 624.4,354 639.7,362.3 655.1,369.1 670.4,375 685.7,382.8 701.1,388.6 716.4,392.4 731.8,396.3 747.1,401.1 762.4,405.9 777.8,407.9 793.1,409.8 808.5,411.7 823.8,414.6 839.1,417.5 854.5,421.4 869.8,423.3 885.2,426.2 900.5,429.1 915.8,433 931.2,435.8 946.5,442.4 961.9,448.2 977.2,454 992.5,458.4 1007.9,461.7 1023.2,463.6 1038.6,464.2 1053.9,463.6 1069.2,462.7 1084.6,460.7 1099.9,457.8 1115.3,457.8 1130.6,457.2 1145.9,455.9 1161.3,454 1176.6,455.3 1192,458 1207.3,460 1222.6,460.9 1238,461.3 1253.3,460.9 1268.7,458.4 1284,455.9 1299.3,454.4 1314.7,453.8 1330,452.8 1345.4,450 1360.7,445.9 1376,441.9 1391.4,437.5 1406.7,433.4 1422.1,429.4 1437.4,424.1 1452.7,420.3 1468.1,417.2 1483.4,415.6 1498.8,414.7 1514.1,413.8 1529.4,413.1 1544.8,412.5 1560.1,411.6 1575.5,410.9 1590.8,411.4 1606.1,410 1621.5,407.8 1636.8,406.1 1652.2,404.4 1667.5,401.3 1682.8,399.1 1698.2,398.4 1713.5,396.9 1728.9,396.3"/>
<polyline class="bl" points="133.5,205.9 148.8,205.9 164.2,205.9 179.5,205.9 194.9,205.9 210.2,205.9 225.5,205.9 240.9,205.9 256.2,205.9 271.6,205.9 286.9,205.9 302.2,205.9 317.6,205.9 332.9,205.9 348.3,205.9 363.6,205.9 378.9,205.9 394.3,205.9 409.6,205.9 425,205.9 440.3,205.9 455.6,205.9 471,205.9 486.3,205.9 501.7,205.9 517,205.9 532.3,205.9 547.7,205.9 563,205.9 578.4,205.9 593.7,205.9 609,205.9 624.4,205.9 639.7,205.9 655.1,225.9 670.4,230.6 685.7,235.3 701.1,272.8 716.4,272.8 731.8,272.8 747.1,272.8 762.4,272.8 777.8,272.8 793.1,272.8 808.5,272.8 823.8,272.8 839.1,272.8 854.5,272.8 869.8,272.8 885.2,272.8 900.5,272.8 915.8,272.8 931.2,285.3 946.5,285.3 961.9,285.3 977.2,285.3 992.5,290 1007.9,290 1023.2,290 1038.6,290 1053.9,290 1069.2,290 1084.6,290 1099.9,311.9 1115.3,338 1130.6,338 1145.9,338 1161.3,338 1176.6,338 1192,338 1207.3,338 1222.6,338 1238,338 1253.3,338 1268.7,338 1284,338 1299.3,338 1314.7,338 1330,344.3 1345.4,344.3 1360.7,344.3 1376,344.3 1391.4,344.3 1406.7,344.3 1422.1,344.3 1437.4,344.3 1452.7,344.3 1468.1,344.3 1483.4,344.3 1498.8,344.3 1514.1,344.3 1529.4,344.3 1544.8,329.7 1560.1,329.7 1575.5,329.7 1590.8,329.7 1606.1,305 1621.5,305 1636.8,305 1652.2,305 1667.5,305 1682.8,305 1698.2,302.5 1713.5,302.5 1728.9,302.5"/>
<polyline class="rd" points="133.1,253 149,240.4 164.3,228.2 179.5,239.4 195,255.9 210.2,266.5 225.5,280 241,298.6 256.4,300.9 271.7,302.2 287,309 302.2,308 317.5,306.1 332.9,304.2 348.4,300.3 363.5,296.4 378.9,292.6 394.3,292.2 409.5,289.3 425,289.9 440.2,287.9 455.7,287.3 471,299.9 486.2,306.7 501.7,313.4 517,319.2 532.4,323.5 547.7,322.1 562.9,314.4 578.4,310.5 593.7,314.4 608.9,319.2 624.4,326 639.7,342.4 655.1,355.9 670.4,361.5 685.7,369.2 701.2,375 716.4,370.8 731.7,368.8 747.1,369.2 762.4,368.3 777.9,360 793.1,356.1 808.4,352.8 823.9,351.8 839.1,351.4 854.4,357.6 869.9,369.2 885.1,378.9 900.6,385.7 915.8,390.5 931.2,393.1 946.4,395 961.9,399.3 977.1,403.7 992.6,408.6 1007.9,415.3 1023.1,419.2 1038.6,421.7 1053.9,422.1 1069.1,422.1 1084.6,420.1 1099.9,412.4 1115.3,404.7 1130.6,398.9 1145.8,395 1161.3,390.2 1176.6,385.4 1192,384.4 1207.3,379.5 1222.6,374.7 1238.1,373.3 1253.3,372.8 1268.6,365 1284.1,363.1 1299.3,361.2 1314.8,358.3 1330,357.9 1345.3,360.2 1360.8,364.1 1376,367 1391.3,367.9 1406.8,368.9 1422,371.2 1437.5,373.3 1452.8,373.7 1468,369.9 1483.5,365 1498.8,362.4 1514.1,358.5 1529.4,350.8 1544.8,345 1560.1,340.2 1575.5,335.3 1590.8,327.6 1606,324.7 1621.5,322.2 1636.8,326.6 1652.2,329.5 1667.5,336.3 1682.9,340.2 1698.2,334.4 1713.4,326.6 1728.9,318.9"/>
<polyline class="mg" points="133.1,294.5 149,283.9 164.3,278.7 179.5,282.9 195,287.8 210.2,288.3 225.5,290.1 241,296.8 256.4,299.9 271.7,301.3 287,301.3 302.2,300.9 317.5,301.3 332.9,301.9 348.4,300.9 363.5,298.4 378.9,295.5 394.3,292 409.5,294.1 425,294.7 440.2,294.5 455.7,292.8 471,298.9 486.2,303.2 501.7,307.6 517,309.2 532.4,309.6 547.7,308.6 562.9,305.7 578.4,304.7 593.7,309.2 608.9,315 624.4,320.2 639.7,327.9 655.1,335.1 670.4,339.9 685.7,345.1 701.2,350.9 716.4,350.3 731.7,351.4 747.1,353.4 762.4,356.1 777.9,353.4 793.1,350.3 808.4,347.6 823.9,349.5 839.1,351.8 854.4,354.7 869.9,360.5 885.1,366.3 900.6,371.2 915.8,375 931.2,376.7 946.4,380 961.9,384.4 977.1,389.6 992.6,393.5 1007.9,397 1023.1,400.4 1038.6,404.3 1053.9,406 1069.1,407.2 1084.6,405.7 1099.9,404.1 1115.3,401.8 1130.6,398.9 1145.8,396.6 1161.3,393.5 1176.6,392.1 1192,391.2 1207.3,388.2 1222.6,385.3 1238.1,380.9 1253.3,380.5 1268.6,377.6 1284.1,374.7 1299.3,372.4 1314.8,368.5 1330,369.9 1345.3,370.8 1360.8,371.2 1376,371.2 1391.3,370.8 1406.8,371.2 1422,373.7 1437.5,374.7 1452.8,374.1 1468,371.8 1483.5,369.3 1498.8,366.6 1514.1,365.3 1529.4,358.5 1544.8,354.6 1560.1,350.8 1575.5,348.3 1590.8,342.1 1606,339.8 1621.5,336.7 1636.8,339.2 1652.2,340.7 1667.5,342.7 1682.9,343.1 1698.2,337.3 1713.4,332.4 1728.9,327"/>
<polyline class="ol" points="133.1,335.7 149,331.2 164.3,328.3 179.5,327 195,326 210.2,324.5 225.5,322.9 241,322 256.4,320.6 271.7,319.3 287,316.7 302.2,314.4 317.5,310.6 332.9,306.1 348.4,301.9 363.5,297.4 378.9,293.6 394.3,289.5 409.5,286.6 425,284.1 440.2,283.1 455.7,283.1 471,284.1 486.2,286 501.7,289.9 517,293.7 532.4,297.4 547.7,300.3 562.9,302.2 578.4,302.8 593.7,305.1 608.9,307.6 624.4,309.6 639.7,311.5 655.1,313.4 670.4,316.1 685.7,319 701.2,321.9 716.4,323.8 731.7,326.7 747.1,329.6 762.4,332.1 777.9,334.4 793.1,336.4 808.4,338.3 823.9,341.2 839.1,344.1 854.4,347 869.9,349.5 885.1,351.8 900.6,354.7 915.8,357.6 931.2,360.8 946.4,364.1 961.9,368.9 977.1,373.4 992.6,376.7 1007.9,380 1023.1,382.5 1038.6,384.4 1053.9,386.3 1069.1,387.7 1084.6,388.3 1099.9,388.8 1115.3,389.6 1130.6,390.6 1145.8,391.5 1161.3,392.5 1176.6,393.5 1192,395 1207.3,396.9 1222.6,396.9 1238.1,396.9 1253.3,396.9 1268.6,395 1284.1,393 1299.3,391.7 1314.8,390.1 1330,390.1 1345.3,389.2 1360.8,387.2 1376,385.3 1391.3,383.4 1406.8,381.1 1422,378.9 1437.5,376.6 1452.8,374.7 1468,372.8 1483.5,370.8 1498.8,369.7 1514.1,368.2 1529.4,365.9 1544.8,363.3 1560.1,362 1575.5,360.4 1590.8,357.2 1606,355.6 1621.5,354.3 1636.8,353.7 1652.2,352.7 1667.5,351.8 1682.9,351.4 1698.2,349.2 1713.4,347.3 1728.9,345"/>
<use href="#star" class="sg" x="193.9" y="190"/>
<use href="#star" class="sg" x="209.2" y="193.8"/>
<use href="#star" class="sg" x="224.5" y="196.3"/>
<use href="#star" class="sg" x="239.9" y="201.6"/>
<use href="#star" class="sg" x="255.2" y="205.6"/>
<use href="#star" class="sg" x="270.6" y="211.6"/>
<use href="#star" class="sg" x="285.9" y="217.2"/>
<use href="#star" class="sg" x="301.2" y="222.5"/>
<use href="#star" class="sg" x="316.6" y="225.9"/>
<use href="#star" class="sg" x="331.9" y="231.9"/>
<use href="#star" class="sg" x="347.3" y="235"/>
<use href="#star" class="sg" x="362.6" y="240"/>
<use href="#star" class="sg" x="377.9" y="243.1"/>
<use href="#star" class="sg" x="393.3" y="247.8"/>
<use href="#star" class="sg" x="408.6" y="251.6"/>
<use href="#star" class="sg" x="424" y="253.3"/>
<use href="#star" class="sg" x="439.3" y="257.8"/>
<use href="#star" class="sg" x="454.6" y="261.3"/>
<use href="#star" class="sg" x="470" y="263.5"/>
<use href="#star" class="sg" x="485.3" y="267.9"/>
<use href="#star" class="sg" x="500.7" y="269.9"/>
<use href="#star" class="sg" x="516" y="273.6"/>
<use href="#star" class="sg" x="531.3" y="275.8"/>
<use href="#star" class="sg" x="546.7" y="277.6"/>
<use href="#star" class="sg" x="562" y="279.6"/>
<use href="#star" class="sg" x="577.4" y="281.4"/>
<use href="#star" class="sg" x="592.7" y="285.5"/>
<use href="#star" class="sg" x="608" y="289.4"/>
<use href="#star" class="sg" x="623.4" y="293.6"/>
<use href="#star" class="sg" x="638.7" y="299.5"/>
<use href="#star" class="sg" x="654.1" y="307.6"/>
<use href="#star" class="sg" x="669.4" y="315.2"/>
<use href="#star" class="sg" x="684.7" y="320.9"/>
<use href="#star" class="sg" x="700.1" y="329.6"/>
<use href="#star" class="sg" x="868.8" y="317.6"/>
<use href="#star" class="sg" x="884.2" y="319.4"/>
<use href="#star" class="sg" x="899.5" y="323.2"/>
<use href="#star" class="sg" x="914.8" y="325.4"/>
<use href="#star" class="sg" x="930.2" y="329.3"/>
<use href="#star" class="sg" x="945.5" y="333.6"/>
<use href="#star" class="sg" x="960.9" y="337.6"/>
<use href="#star" class="sg" x="976.2" y="343.8"/>
<use href="#star" class="sg" x="991.5" y="349.6"/>
<use href="#star" class="sg" x="1006.9" y="353.9"/>
<use href="#star" class="sg" x="1022.2" y="357.3"/>
<use href="#star" class="sg" x="1037.6" y="363.5"/>
<use href="#star" class="sg" x="1052.9" y="371.8"/>
<use href="#star" class="sg" x="1068.2" y="377.6"/>
<use href="#star" class="sg" x="1083.6" y="383.4"/>
<use href="#star" class="sg" x="1098.9" y="383.4"/>
<use href="#star" class="sg" x="1114.3" y="383.4"/>
<use href="#star" class="sg" x="1206.3" y="357.3"/>
<use href="#star" class="sg" x="1390.4" y="329.9"/>
<use href="#star" class="sg" x="1405.7" y="331.8"/>
<use href="#star" class="sg" x="1421.1" y="333.7"/>
<use href="#star" class="sg" x="1436.4" y="335.5"/>
<use href="#star" class="sg" x="1451.7" y="337.5"/>
<use href="#star" class="sg" x="1467.1" y="339.4"/>
<use href="#star" class="sg" x="1635.8" y="289.9"/>
<use href="#star" class="sg" x="1651.2" y="291.9"/>
<use href="#star" class="sg" x="1666.5" y="293.8"/>
<use href="#star" class="sg" x="1681.8" y="293.8"/>
<use href="#star" class="sr" x="135.8" y="331.2"/>
<use href="#star" class="sr" x="147.8" y="321.6"/>
<use href="#star" class="sr" x="163.2" y="310.4"/>
<use href="#star" class="sr" x="178.5" y="299.9"/>
<use href="#star" class="sr" x="715.4" y="387.6"/>
<use href="#star" class="sr" x="730.8" y="385.7"/>
<use href="#star" class="sr" x="746.1" y="385.7"/>
<use href="#star" class="sr" x="761.4" y="384.1"/>
<use href="#star" class="sr" x="776.8" y="381.8"/>
<use href="#star" class="sr" x="792.1" y="381.2"/>
<use href="#star" class="sr" x="807.5" y="379.9"/>
<use href="#star" class="sr" x="822.8" y="377.9"/>
<use href="#star" class="sr" x="838.1" y="377.5"/>
<use href="#star" class="sr" x="853.5" y="376"/>
<use href="#star" class="sr" x="1129.6" y="399.3"/>
<use href="#star" class="sr" x="1144.9" y="399.3"/>
<use href="#star" class="sr" x="1160.3" y="399.3"/>
<use href="#star" class="sr" x="1175.6" y="397.9"/>
<use href="#star" class="sr" x="1191" y="395.6"/>
<use href="#star" class="sr" x="1221.6" y="395.4"/>
<use href="#star" class="sr" x="1237" y="394"/>
<use href="#star" class="sr" x="1252.3" y="391.5"/>
<use href="#star" class="sr" x="1267.7" y="389.6"/>
<use href="#star" class="sr" x="1283" y="385.9"/>
<use href="#star" class="sr" x="1298.3" y="381.4"/>
<use href="#star" class="sr" x="1313.7" y="379.9"/>
<use href="#star" class="sr" x="1329" y="375.7"/>
<use href="#star" class="sr" x="1344.4" y="375.3"/>
<use href="#star" class="sr" x="1359.7" y="373.7"/>
<use href="#star" class="sr" x="1375" y="368.5"/>
<use href="#star" class="sr" x="1482.4" y="367.3"/>
<use href="#star" class="sr" x="1497.8" y="367.9"/>
<use href="#star" class="sr" x="1513.1" y="367.5"/>
<use href="#star" class="sr" x="1528.4" y="363.4"/>
<use href="#star" class="sr" x="1543.8" y="361.3"/>
<use href="#star" class="sr" x="1559.1" y="359.6"/>
<use href="#star" class="sr" x="1574.5" y="357.5"/>
<use href="#star" class="sr" x="1589.8" y="355.6"/>
<use href="#star" class="sr" x="1605.1" y="349.8"/>
<use href="#star" class="sr" x="1620.5" y="345.4"/>
<use href="#star" class="sr" x="1697.2" y="363.7"/>
<use href="#star" class="sr" x="1712.5" y="363.7"/>
<use href="#star" class="sr" x="1727.9" y="363.7"/>
</svg>
<span class="t" style="left:1053.4px;top:419.8px;font-size:24px;color:#4b5b70;letter-spacing:-0.9px;">1159</span>
<div class="btn" style="left:126.2px;top:506px"></div>
<span class="t" style="left:130.4px;top:510.3px;font-size:23.9px;color:#333;"><span class="cj">纬叁指数</span></span>
<i class="tri d2" style="left:230.3px;top:520.2px"></i>
<span class="t" style="left:260.3px;top:510.8px;font-size:23.9px;color:#e8301f;"><span class="cj">纬叁指数</span></span><span class="t" style="left:356.6px;top:512.4px;font-size:23.2px;color:#e8301f;letter-spacing:-0.1px;text-shadow:0 0 .6px currentColor;">:52.32</span><span class="t" style="left:420.9px;top:511.5px"><svg class="ar" viewBox="0 0 10 26"><path class="st" d="M5 4V25"/><path class="hd" d="M5 .8C4.2 4 2.6 7.6.8 10.6C2 8.6 3.4 7 4.1 6.6H5.9C6.6 7 8 8.6 9.2 10.6C7.4 7.6 5.8 4 5 .8Z"/></svg></span>
<span class="t" style="left:437.3px;top:510.8px;font-size:23.9px;color:#85851f;"><span class="cj">中线趋势</span></span><span class="t" style="left:533.6px;top:512.4px;font-size:23.2px;color:#85851f;letter-spacing:-0.1px;text-shadow:0 0 .6px currentColor;">:42.50</span><span class="t" style="left:597.3px;top:511.5px"><svg class="ar" viewBox="0 0 10 26"><path class="st" d="M5 4V25"/><path class="hd" d="M5 .8C4.2 4 2.6 7.6.8 10.6C2 8.6 3.4 7 4.1 6.6H5.9C6.6 7 8 8.6 9.2 10.6C7.4 7.6 5.8 4 5 .8Z"/></svg></span>
<span class="t" style="left:613.3px;top:510.8px;font-size:23.9px;color:#f03cf2;"><span class="cj">指数趋势</span></span><span class="t" style="left:709.1px;top:512.4px;font-size:23.2px;color:#f03cf2;letter-spacing:-0.1px;text-shadow:0 0 .6px currentColor;">:8.67</span><span class="t" style="left:759.8px;top:511.5px"><svg class="ar dn" viewBox="0 0 10 26"><g transform="translate(0,26) scale(1,-1)"><path class="st" d="M5 4V25"/><path class="hd" d="M5 .8C4.2 4 2.6 7.6.8 10.6C2 8.6 3.4 7 4.1 6.6H5.9C6.6 7 8 8.6 9.2 10.6C7.4 7.6 5.8 4 5 .8Z"/></g></svg></span>
<span class="t" style="left:776.8px;top:510.8px;font-size:23.9px;color:#808080;"><span class="cj">基线</span></span><span class="t" style="left:825.6px;top:512.4px;font-size:23.2px;color:#808080;letter-spacing:-0.1px;text-shadow:0 0 .6px currentColor;">:0.00</span>
<span class="t" style="left:126.6px;top:673.5px;font-size:19.3px;color:#333;letter-spacing:0.2px;">2026/01/08/22:00</span>
<span class="t" style="left:303.5px;top:673px;font-size:19.7px;color:#444;"><span class="cj">周期数</span><b class="n" style="font-size:19.3px">105</b><span class="cj">个</span></span>
<span class="t" style="left:438.2px;top:673px;font-size:19.6px;color:#444;"><span class="cj">前复权</span></span>
<svg class="chev" style="left:1461px;top:678px" width="10" height="10" viewBox="0 0 10 10"><path d="M1 1L5 4.3L9 1M1 5.2L5 8.5L9 5.2"/></svg>
<span class="t" style="left:1475.5px;top:673px;font-size:19.4px;color:#333;"><span class="cj">收起副图</span></span>
<span class="t" style="left:1585.2px;top:673.5px;font-size:19.3px;color:#333;letter-spacing:0.28px;">2026/02/02/10:00</span>
</section>
<nav>
<span class="t" style="left:111.3px;top:727.3px;font-size:30.6px;color:#666;"><span class="cj">分时</span></span>
<span class="t" style="left:219px;top:727.3px;font-size:30.6px;color:#666;"><span class="cj">多日</span></span>
<span class="t" style="left:324.7px;top:727.3px;font-size:30.6px;color:#666;"><span class="cj">日</span></span>
<span class="t" style="left:356.4px;top:727.9px;font-size:30.3px;color:#666;letter-spacing:-0.6px;transform:scaleY(1.05);transform-origin:0 84%;">K</span>
<span class="t" style="left:422.4px;top:727.3px;font-size:30.6px;color:#666;"><span class="cj">周</span></span>
<span class="t" style="left:454.5px;top:727.9px;font-size:30.3px;color:#666;letter-spacing:-0.6px;transform:scaleY(1.05);transform-origin:0 84%;">K</span>
<span class="t" style="left:521.5px;top:727.3px;font-size:30.6px;color:#666;"><span class="cj">月</span></span>
<span class="t" style="left:552.2px;top:727.9px;font-size:30.3px;color:#666;letter-spacing:-0.6px;transform:scaleY(1.05);transform-origin:0 84%;">K</span>
<span class="t" style="left:616.6px;top:727.9px;font-size:30.3px;color:#666;letter-spacing:-0.6px;transform:scaleY(1.05);transform-origin:0 84%;">5</span>
<span class="t" style="left:633px;top:727.3px;font-size:30.6px;color:#666;"><span class="cj">分</span></span>
<span class="t" style="left:708.8px;top:727.9px;font-size:30.3px;color:#666;letter-spacing:-0.6px;transform:scaleY(1.05);transform-origin:0 84%;">10</span>
<span class="t" style="left:742.2px;top:727.3px;font-size:30.6px;color:#666;"><span class="cj">分</span></span>
<span class="t" style="left:817px;top:727.9px;font-size:30.3px;color:#666;letter-spacing:-0.6px;transform:scaleY(1.05);transform-origin:0 84%;">15</span>
<span class="t" style="left:852px;top:727.3px;font-size:30.6px;color:#666;"><span class="cj">分</span></span>
<span class="t" style="left:925.6px;top:727.9px;font-size:30.3px;color:#666;letter-spacing:-0.6px;transform:scaleY(1.05);transform-origin:0 84%;">30</span>
<span class="t" style="left:960.2px;top:727.3px;font-size:30.6px;color:#666;"><span class="cj">分</span></span>
<span class="t" style="left:1035.3px;top:727.9px;font-size:30.3px;color:#2b2b2b;letter-spacing:-0.6px;transform:scaleY(1.05);transform-origin:0 84%;-webkit-text-stroke:0.25px #2b2b2b;">60</span>
<span class="t" style="left:1069.7px;top:727.3px;font-size:30.6px;color:#2b2b2b;"><span class="cj">分</span></span>
<i class="ul"></i>
<span class="t" style="left:1144.8px;top:727.9px;font-size:30.3px;color:#666;letter-spacing:-0.6px;transform:scaleY(1.05);transform-origin:0 84%;">120</span>
<span class="t" style="left:1194.6px;top:727.3px;font-size:30.6px;color:#666;"><span class="cj">分</span></span>
<span class="t" style="left:1270.4px;top:727.3px;font-size:30.6px;color:#666;"><span class="cj">季</span></span>
<span class="t" style="left:1303.4px;top:727.9px;font-size:30.3px;color:#666;letter-spacing:-0.6px;transform:scaleY(1.05);transform-origin:0 84%;">K</span>
<span class="t" style="left:1367.6px;top:727.3px;font-size:30.6px;color:#666;"><span class="cj">年</span></span>
<span class="t" style="left:1399.8px;top:727.9px;font-size:30.3px;color:#666;letter-spacing:-0.6px;transform:scaleY(1.05);transform-origin:0 84%;">K</span>
<div class="nb" style="left:1505px"></div><div class="nb" style="left:1643px"></div>
<span class="t" style="left:1517.2px;top:727.2px;font-size:30.7px;color:#333;"><span class="cj">上一个</span></span>
<span class="t" style="left:1654.6px;top:727.2px;font-size:30.7px;color:#333;"><span class="cj">下一个</span></span>
<i class="home"></i>
</nav>
</body></html>
